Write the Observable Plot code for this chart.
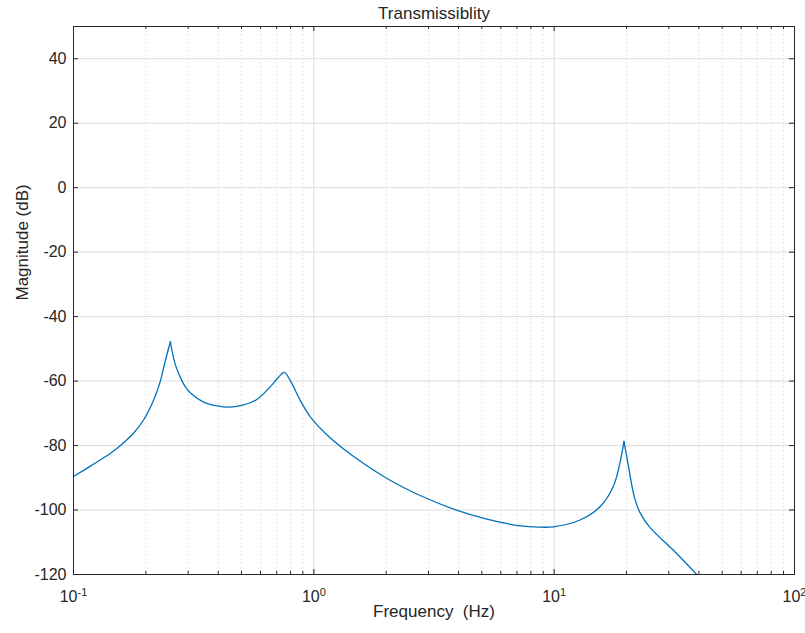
<!DOCTYPE html>
<html>
<head>
<meta charset="utf-8">
<script src="https://cdn.jsdelivr.net/npm/d3@7"></script>
<script src="https://cdn.jsdelivr.net/npm/@observablehq/plot@0.6"></script>
<style>
  html, body { margin: 0; padding: 0; background: #fff; }
  #chart { width: 805px; height: 633px; }
  svg { font-family: "Liberation Sans", Arial, Helvetica, sans-serif; }
</style>
</head>
<body>
<div id="chart"></div>
<script>
// Data
const freqHz = [0.1, 0.118, 0.1426, 0.1568, 0.178, 0.196, 0.2156, 0.2298, 0.241, 0.253,
  0.2653, 0.283, 0.2936, 0.306, 0.348, 0.395, 0.449, 0.510, 0.579, 0.658, 0.713, 0.753,
  0.797, 0.877, 0.965, 1.169, 1.465, 2.016, 2.77, 3.81, 5.25, 7.22, 8.6, 9.93,
  12.81, 15.51, 17.62, 18.78, 19.51, 20.33, 21.0, 21.68, 22.75, 25.02, 31.27, 39.2];
const magDb = [-89.6, -86.3, -82.4, -80.0, -76.1, -72.0, -65.9, -60.0, -53.7, -47.8,
  -54.9, -60.0, -62.0, -63.6, -66.5, -67.7, -68.1, -67.4, -65.7, -61.8, -58.8, -57.3,
  -59.8, -65.9, -71.0, -77.6, -83.4, -90.2, -95.5, -99.7, -102.8, -104.9, -105.3, -105.2,
  -103.1, -99.0, -92.7, -85.4, -78.7, -86.0, -92.0, -96.6, -100.8, -105.4, -112.4, -120.0];
// frequencies of the sharp resonance peaks (line is split there so they stay pointed)
const sharpPeaks = [0.253, 19.51];

const xMajorTicks = [0.1, 1, 10, 100];
const xMinorTicks = [0.2, 0.3, 0.4, 0.5, 0.6, 0.7, 0.8, 0.9,
  2, 3, 4, 5, 6, 7, 8, 9, 20, 30, 40, 50, 60, 70, 80, 90];
const yTicks = [-120, -100, -80, -60, -40, -20, 0, 20, 40];

const titleText = "Transmissiblity";
const xLabel = "Frequency\u00a0\u00a0(Hz)";
const yLabel = "Magnitude (dB)";

// build segmented table: the peak points are duplicated into the next segment
const data = [];
let seg = 0;
freqHz.forEach((f, i) => {
  data.push({f, m: magDb[i], seg});
  if (sharpPeaks.includes(f)) {
    seg++;
    data.push({f, m: magDb[i], seg});
  }
});

const axisColor = "#262626";
const gridColor = "#dcdcdc";

const xDom = [0.1, 100];
const yDom = [-120, 50];
const tickLenX = 10 ** (5 / 240.7);
const pxY = 170 / 548;

const chart = Plot.plot({
  width: 805,
  height: 633,
  marginLeft: 73,
  marginRight: 11,
  marginTop: 26,
  marginBottom: 59,
  style: {fontFamily: '"Liberation Sans", Arial, sans-serif', color: axisColor, background: "#fff"},
  x: {type: "log", domain: xDom},
  y: {domain: yDom},
  marks: [
    // grid
    Plot.ruleX(xMinorTicks, {stroke: gridColor, strokeDasharray: "1.5,2.5", strokeWidth: 1}),
    Plot.ruleX(xMajorTicks, {stroke: gridColor, strokeWidth: 1}),
    Plot.ruleY(yTicks, {stroke: gridColor, strokeWidth: 1}),
    // curve
    Plot.line(data, {x: "f", y: "m", z: "seg", stroke: "#0072BD", strokeWidth: 1.3, curve: "catmull-rom"}),
    // inward ticks: bottom/top
    Plot.ruleX(xMajorTicks, {y1: -120, y2: -120 + 5 * pxY, stroke: axisColor}),
    Plot.ruleX(xMajorTicks, {y1: 50, y2: 50 - 5 * pxY, stroke: axisColor}),
    Plot.ruleX(xMinorTicks, {y1: -120, y2: -120 + 3 * pxY, stroke: axisColor}),
    Plot.ruleX(xMinorTicks, {y1: 50, y2: 50 - 3 * pxY, stroke: axisColor}),
    // inward ticks: left/right
    Plot.ruleY(yTicks, {x1: 0.1, x2: 0.1 * tickLenX, stroke: axisColor}),
    Plot.ruleY(yTicks, {x1: 100, x2: 100 / tickLenX, stroke: axisColor}),
    // axes labels
    Plot.axisX(xMajorTicks, {tickSize: 0, tickPadding: 16, fontSize: 16, tickFormat: d => String(Math.round(Math.log10(d))), label: null, color: axisColor}),
    Plot.axisY(yTicks, {tickSize: 0, tickPadding: 7, fontSize: 16, tickFormat: d => String(d), label: null, color: axisColor}),
    Plot.frame({stroke: axisColor, strokeWidth: 1}),
    Plot.text([titleText], {frameAnchor: "top", dy: -20, fontSize: 17, fill: axisColor}),
    Plot.text([xLabel], {frameAnchor: "bottom", dy: 42, fontSize: 17, fill: axisColor}),
    Plot.text([yLabel], {frameAnchor: "left", dx: -51, rotate: -90, fontSize: 17, fill: axisColor})
  ]
});

// render x tick labels as 10^n with real superscripts
d3.select(chart).selectAll('g[aria-label="x-axis tick label"] text').each(function() {
  const t = d3.select(this);
  const exp = t.text();
  t.text("10");
  t.append("tspan").attr("dy", "-0.55em").attr("font-size", 11).text(exp);
});

document.getElementById("chart").appendChild(chart);
</script>
</body>
</html>
